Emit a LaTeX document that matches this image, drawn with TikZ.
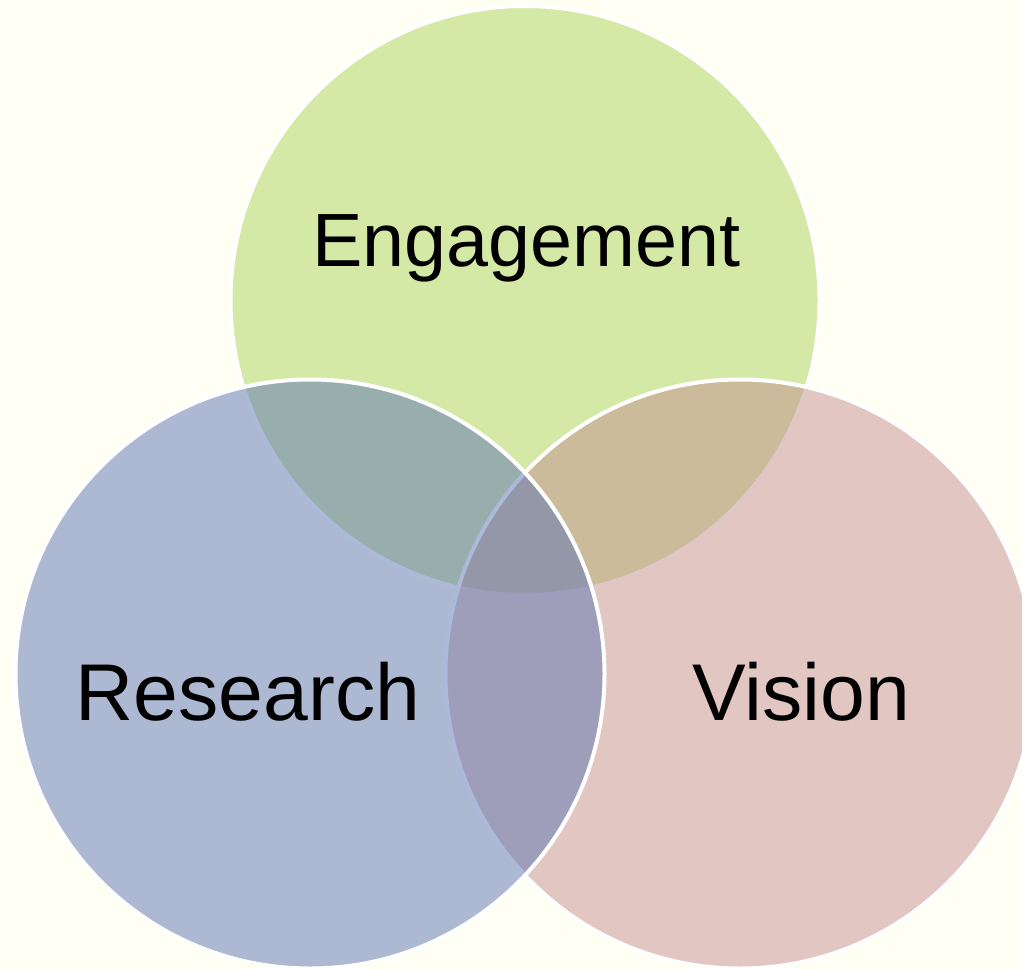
\documentclass[tikz,border=0pt]{standalone}
\usepackage{fontspec}
\setmainfont{Liberation Sans}
\definecolor{bgcol}{HTML}{FFFFF4}
\definecolor{greenbase}{HTML}{A9D558}
\definecolor{bluebase}{HTML}{5D75B4}
\definecolor{pinkbase}{HTML}{C58F90}
\begin{document}
\begin{tikzpicture}[x=1pt,y=-1pt,
  venn/.style={circle, inner sep=0pt, minimum size=589pt, draw=white, line width=4pt, fill opacity=0.5, draw opacity=1},
  lbl/.style={anchor=base, inner sep=0pt, text=black}]
\fill[bgcol] (0,0) rectangle (1022,969);
\useasboundingbox (0,0) rectangle (1022,969);
\begin{scope}
\clip (0,0) rectangle (1022,969);
\node[venn, fill=greenbase] (eng) at (525,300.5) {};
\node[venn, fill=pinkbase] (vis) at (740,674) {};
\node[venn, fill=bluebase] (res) at (310,674) {};
\end{scope}
\node[lbl, font=\fontsize{75.5}{80}\selectfont] (tE) at (526.5,266.7) {Engagement};
\node[lbl, font=\fontsize{80.5}{85}\selectfont] (tR) at (248,720.5) {Research};
\node[lbl, font=\fontsize{80.5}{85}\selectfont] (tV) at (801.5,720) {Vision};
\end{tikzpicture}
\end{document}
